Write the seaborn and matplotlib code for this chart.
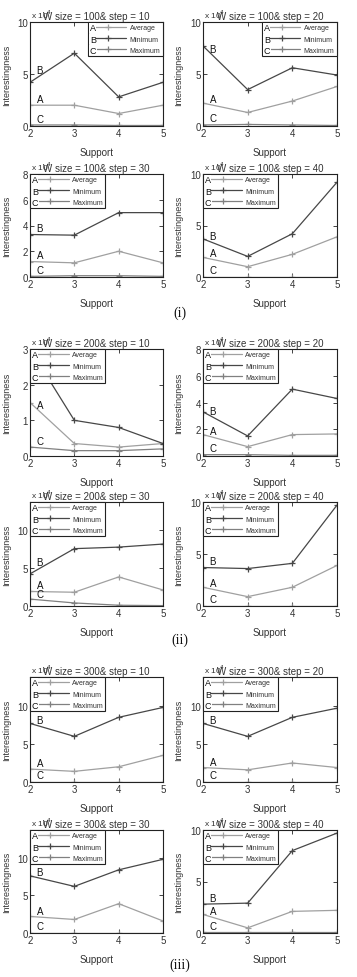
import numpy as np
import matplotlib
matplotlib.use("Agg")
import matplotlib.pyplot as plt
import seaborn as sns

# x axis
support = [2, 3, 4, 5]
steps = [10, 20, 30, 40]
sizes = [100, 200, 300]

# interestingness values (x 10^4), one row per step 10/20/30/40
avg_100 = [[2.0, 2.0, 1.2, 2.0], [2.2, 1.3, 2.4, 3.8], [1.2, 1.1, 2.0, 1.1], [1.9, 1.0, 2.2, 3.9]]
min_100 = [[4.2, 7.0, 2.8, 4.2], [7.7, 3.5, 5.6, 4.9], [3.3, 3.25, 5.0, 5.0], [3.7, 2.0, 4.2, 9.2]]
max_100 = [[0.1, 0.1, 0.05, 0.05], [0.1, 0.15, 0.1, 0.05], [0.05, 0.1, 0.1, 0.05], [0.02, 0.02, 0.02, 0.02]]

avg_200 = [[1.5, 0.35, 0.25, 0.35], [1.6, 0.7, 1.6, 1.65], [1.9, 1.8, 3.8, 2.1], [1.8, 0.9, 1.8, 3.9]]
min_200 = [[3.0, 1.0, 0.8, 0.35], [3.3, 1.5, 5.0, 4.3], [4.2, 7.5, 7.7, 8.1], [3.7, 3.6, 4.1, 9.7]]
max_200 = [[0.25, 0.15, 0.15, 0.2], [0.1, 0.1, 0.05, 0.05], [0.9, 0.4, 0.1, 0.05], [0.02, 0.02, 0.02, 0.02]]

avg_300 = [[1.7, 1.4, 2.0, 3.5], [1.9, 1.6, 2.5, 1.9], [2.2, 1.8, 3.9, 1.6], [1.8, 0.5, 2.1, 2.2]]
min_300 = [[7.7, 6.0, 8.5, 9.8], [7.7, 6.0, 8.5, 9.7], [7.6, 6.2, 8.4, 9.8], [2.8, 2.9, 8.0, 9.7]]
max_300 = [[0.05, 0.05, 0.05, 0.05], [0.05, 0.05, 0.05, 0.05], [0.05, 0.05, 0.05, 0.05], [0.05, 0.05, 0.05, 0.05]]

# y axis upper limits per panel
ytop_100 = [10, 10, 8, 10]
ytop_200 = [3, 8, 13.6, 10]
ytop_300 = [13.8, 13.8, 13.7, 10]

group_names = ["(i)", "(ii)", "(iii)"]

data = {
    100: (avg_100, min_100, max_100, ytop_100),
    200: (avg_200, min_200, max_200, ytop_200),
    300: (avg_300, min_300, max_300, ytop_300),
}

sns.set_theme(style="white")
plt.rcParams["font.family"] = ["Liberation Sans", "DejaVu Sans"]

W, H = 357, 978
fig = plt.figure(figsize=(W / 100, H / 100), dpi=100)

col_x = [(30, 163), (203, 337)]
row_y = [(23, 127), (175, 278), (350, 457), (503, 607), (678, 783), (831, 934)]
label_y = [313, 640, 965]

colors = {"Average": "#a0a0a0", "Minimum": "#474747", "Maximum": "#808080"}
txt = "#333333"

legends = []
for gi, size in enumerate(sizes):
    avgs, mins, maxs, ytops = data[size]
    for si, step in enumerate(steps):
        r = gi * 2 + si // 2
        c = si % 2
        x0, x1 = col_x[c]
        t0, t1 = row_y[r]
        ax = fig.add_axes([x0 / W, 1 - t1 / H, (x1 - x0) / W, (t1 - t0) / H])

        series = [("Average", avgs[si]), ("Minimum", mins[si]), ("Maximum", maxs[si])]
        for name, vals in series:
            sns.lineplot(x=support, y=vals, ax=ax, color=colors[name], marker="+",
                         markersize=5, markeredgewidth=0.9, markeredgecolor=colors[name],
                         linewidth=0.9, label=name, errorbar=None)

        for letter, (name, vals) in zip("ABC", series):
            yv = np.interp(2.22, support, vals)
            ax.annotate(letter, (2.22, yv), xytext=(0, 1), textcoords="offset points",
                        ha="center", va="bottom", fontsize=7, color="#111111")

        top = ytops[si]
        ax.set_xlim(2, 5)
        ax.set_ylim(0, top)
        ax.set_xticks(support)
        if top <= 3:
            ax.set_yticks([0, 1, 2, 3])
        elif top == 8:
            ax.set_yticks([0, 2, 4, 6, 8])
        else:
            ax.set_yticks([0, 5, 10])
        ax.tick_params(direction="in", length=3, width=0.6, pad=1.5, labelsize=7,
                       colors="#222222", labelcolor=txt, top=True, right=True,
                       bottom=True, left=True)
        for sp in ax.spines.values():
            sp.set_color("#222222")
            sp.set_linewidth(0.8)

        ax.set_xlabel("Support", fontsize=7, color=txt)
        ax.set_ylabel("Interestingness", fontsize=6.5, color=txt)
        ax.xaxis.set_label_coords(0.5, -0.2)
        ax.yaxis.set_label_coords(-0.145, 0.5)
        ax.set_title(f"W size = {size}& step = {step}", fontsize=7, color=txt, pad=2.5)
        ax.annotate("x 10$^4$", (0, 1), xycoords="axes fraction", xytext=(1, 1.5),
                    textcoords="offset points", ha="left", va="bottom", fontsize=6, color=txt)

        if size == 100 and step in (10, 20):
            loc, anchor = "upper right", (1.0, 1.0)
        else:
            loc, anchor = "upper left", (0.0, 1.0)
        leg = ax.legend(loc=loc, bbox_to_anchor=anchor, fontsize=5, frameon=True,
                        fancybox=False, framealpha=1, edgecolor="#222222",
                        borderaxespad=0.0, borderpad=0.35, labelspacing=0.6,
                        handlelength=5.2, handletextpad=0.5)
        leg.get_frame().set_linewidth(0.8)
        for t in leg.get_texts():
            t.set_color(txt)
        legends.append(leg)

    fig.text(180 / W, 1 - label_y[gi] / H, group_names[gi], ha="center", va="center",
             fontsize=10, family=["Liberation Serif", "DejaVu Serif"], color="#111111")

# letters A/B/C in front of legend handles
fig.canvas.draw()
inv = fig.transFigure.inverted()
for leg in legends:
    fb = leg.get_frame().get_window_extent()
    for t, letter in zip(leg.get_texts(), "ABC"):
        tb = t.get_window_extent()
        fx, fy = inv.transform((fb.x0 + 2, (tb.y0 + tb.y1) / 2))
        fig.text(fx, fy, letter, ha="left", va="center", fontsize=6.5, color="#111111",
                 bbox=dict(facecolor="white", edgecolor="none", pad=0.3))

fig.savefig("out.png", dpi=100)
